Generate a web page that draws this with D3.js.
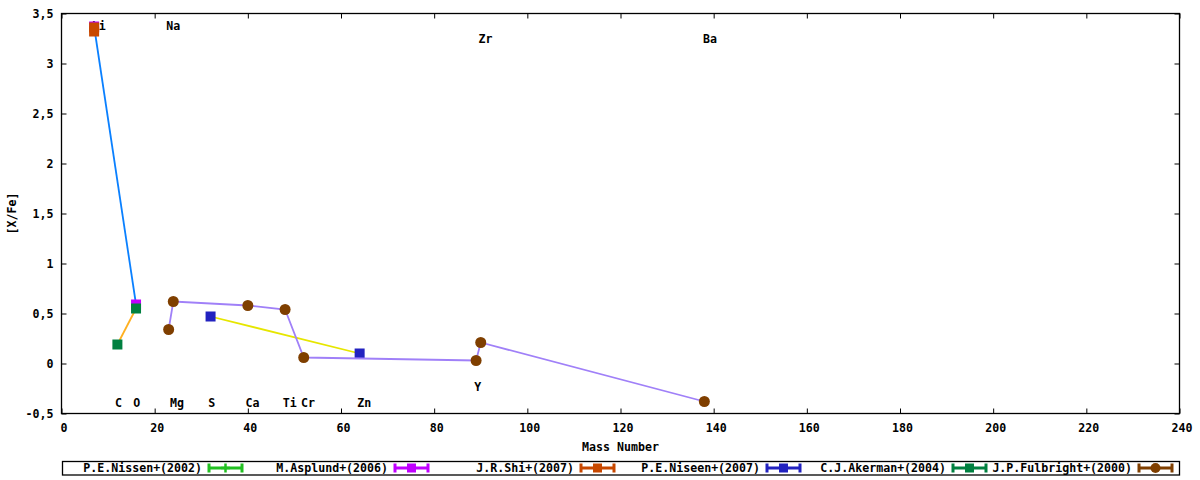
<!DOCTYPE html>
<html>
<head>
<meta charset="utf-8">
<script src="https://cdn.jsdelivr.net/npm/d3@7"></script>
<style>
  html, body { margin: 0; padding: 0; background: #fff; }
  svg { display: block; }
  text { font-family: "DejaVu Sans Mono", monospace; font-size: 11.6px; font-weight: bold; fill: #000; }
</style>
</head>
<body>
<svg id="chart" width="1200" height="480"></svg>
<script>
// ---------------- DATA ----------------
const xTicks = [0, 20, 40, 60, 80, 100, 120, 140, 160, 180, 200, 220, 240];
const yTicks = [-0.5, 0, 0.5, 1, 1.5, 2, 2.5, 3, 3.5];

const seriesNames = ["P.E.Nissen+(2002)", "M.Asplund+(2006)", "J.R.Shi+(2007)",
                     "P.E.Niseen+(2007)", "C.J.Akerman+(2004)", "J.P.Fulbright+(2000)"];

const nissen2002Mass = [];
const nissen2002Val = [];
const asplundMass = [7, 16];
const asplundVal = [3.37, 0.59];
const shiMass = [7, 7];
const shiVal = [3.36, 3.32];
const niseenMass = [32, 64];
const niseenVal = [0.47, 0.10];
const akermanMass = [12, 16];
const akermanVal = [0.19, 0.55];
const fulbrightMass = [23, 24, 40, 48, 52, 89, 90, 138];
const fulbrightVal = [0.34, 0.62, 0.58, 0.54, 0.06, 0.03, 0.21, -0.38];

const elemNames = ["Li", "Na", "Zr", "Ba", "C", "O", "Mg", "S", "Ca", "Ti", "Cr", "Zn", "Y"];
const elemX = [6.5, 22.5, 89.5, 137.7, 11.5, 15.4, 23.3, 31.5, 39.5, 47.5, 51.4, 63.5, 88.6];
const elemY = [3.38, 3.38, 3.25, 3.25, -0.39, -0.39, -0.39, -0.39, -0.39, -0.39, -0.39, -0.39, -0.23];

// ---------------- STYLE ----------------
const pointColors = ["#22c022", "#c000ff", "#c84800", "#2222c0", "#008040", "#7f3f00"];
const lineColors  = ["#22c022", "#0a80ff", "#c84800", "#e6e600", "#ffb020", "#a080f8"];
const markers     = ["plus", "square", "square", "square", "square", "circle"];

const series = [
  { m: nissen2002Mass, v: nissen2002Val },
  { m: asplundMass, v: asplundVal },
  { m: shiMass, v: shiVal },
  { m: niseenMass, v: niseenVal },
  { m: akermanMass, v: akermanVal },
  { m: fulbrightMass, v: fulbrightVal }
].map((s, i) => ({
  name: seriesNames[i],
  pts: s.m.map((mm, j) => ({ x: mm, y: s.v[j] })),
  pc: pointColors[i], lc: lineColors[i], mk: markers[i]
}));

// ---------------- CHART ----------------
const svg = d3.select("#chart");
const L = 61.5, R = 1179.5, T = 13.5, B = 413.5;
const x = d3.scaleLinear().domain([0, 240]).range([L, R]);
const y = d3.scaleLinear().domain([-0.5, 3.5]).range([B, T]);

const loc = d3.formatLocale({ decimal: ",", thousands: ".", grouping: [3], currency: ["", ""], minus: "-" });
const fmt = loc.format("~g");

function styleAxis(g) {
  g.select(".domain").remove();
  g.selectAll(".tick line").attr("stroke", "#000").attr("stroke-width", 1);
  g.selectAll("text").attr("font-family", null).attr("font-size", null).style("fill", "#000");
}

svg.append("g").attr("transform", `translate(0,${B})`)
  .call(d3.axisBottom(x).tickValues(xTicks).tickFormat(d => fmt(d)).tickSize(-5).tickPadding(10))
  .call(styleAxis)
  .call(g => g.selectAll(".tick text").attr("dx", 2));
svg.append("g").attr("transform", `translate(0,${T})`)
  .call(d3.axisTop(x).tickValues(xTicks).tickFormat("").tickSize(-5))
  .call(styleAxis);
svg.append("g").attr("transform", `translate(${L},0)`)
  .call(d3.axisLeft(y).tickValues(yTicks).tickFormat(d => fmt(d)).tickSize(-5).tickPadding(8))
  .call(styleAxis);
svg.append("g").attr("transform", `translate(${R},0)`)
  .call(d3.axisRight(y).tickValues(yTicks).tickFormat("").tickSize(-5))
  .call(styleAxis);

// border
svg.append("rect").attr("x", L).attr("y", T).attr("width", R - L).attr("height", B - T)
  .attr("fill", "none").attr("stroke", "#000").attr("stroke-width", 1.3);

// axis titles
svg.append("text").attr("x", (L + R) / 2).attr("y", 447).attr("text-anchor", "middle")
  .attr("dominant-baseline", "central").text("Mass Number");
svg.append("text").attr("transform", `translate(12,${(T + B) / 2}) rotate(-90)`)
  .attr("text-anchor", "middle").attr("dominant-baseline", "central").text("[X/Fe]");

// element labels
svg.append("g").selectAll("text").data(elemNames).join("text")
  .attr("x", (d, i) => x(elemX[i])).attr("y", (d, i) => y(elemY[i]))
  .attr("dominant-baseline", "central").attr("text-anchor", "start").text(d => d);

function drawMarker(g, type, color, cx, cy, size) {
  if (type === "square") {
    g.append("rect").attr("x", cx - size / 2).attr("y", cy - size / 2)
      .attr("width", size).attr("height", size).attr("fill", color);
  } else if (type === "circle") {
    g.append("circle").attr("cx", cx).attr("cy", cy).attr("r", size / 2 + 0.5).attr("fill", color);
  } else {
    g.append("path").attr("d", `M${cx - size / 2},${cy}H${cx + size / 2}M${cx},${cy - size / 2}V${cy + size / 2}`)
      .attr("stroke", color).attr("stroke-width", 2.5).attr("fill", "none");
  }
}

// series
const line = d3.line().x(d => x(d.x)).y(d => y(d.y));
const plot = svg.append("g");
series.forEach(s => {
  const g = plot.append("g");
  if (s.pts.length > 1) {
    g.append("path").datum(s.pts).attr("d", line).attr("fill", "none")
      .attr("stroke", s.lc).attr("stroke-width", 1.8);
  }
  s.pts.forEach(p => drawMarker(g, s.mk, s.pc, x(p.x), y(p.y), 10));
});

// legend
const lg = svg.append("g");
lg.append("rect").attr("x", 62.5).attr("y", 461.5).attr("width", 1117).attr("height", 13.5)
  .attr("fill", "#fff").attr("stroke", "#000").attr("stroke-width", 1.3);
series.forEach((s, i) => {
  const base = 62 + 186 * i;
  const cy = 468;
  lg.append("text").attr("x", base + 140).attr("y", cy).attr("text-anchor", "end")
    .attr("dominant-baseline", "central").text(s.name);
  const x0 = base + 146, x1 = base + 181;
  const g = lg.append("g");
  g.append("path").attr("d", `M${x0},${cy}H${x1}M${x0 + 1},${cy - 4.5}V${cy + 4.5}M${x1 - 1},${cy - 4.5}V${cy + 4.5}`)
    .attr("stroke", s.pc).attr("stroke-width", 3).attr("fill", "none");
  drawMarker(g, s.mk, s.pc, (x0 + x1) / 2, cy, s.mk === "plus" ? 9 : 9);
});
</script>
</body>
</html>
